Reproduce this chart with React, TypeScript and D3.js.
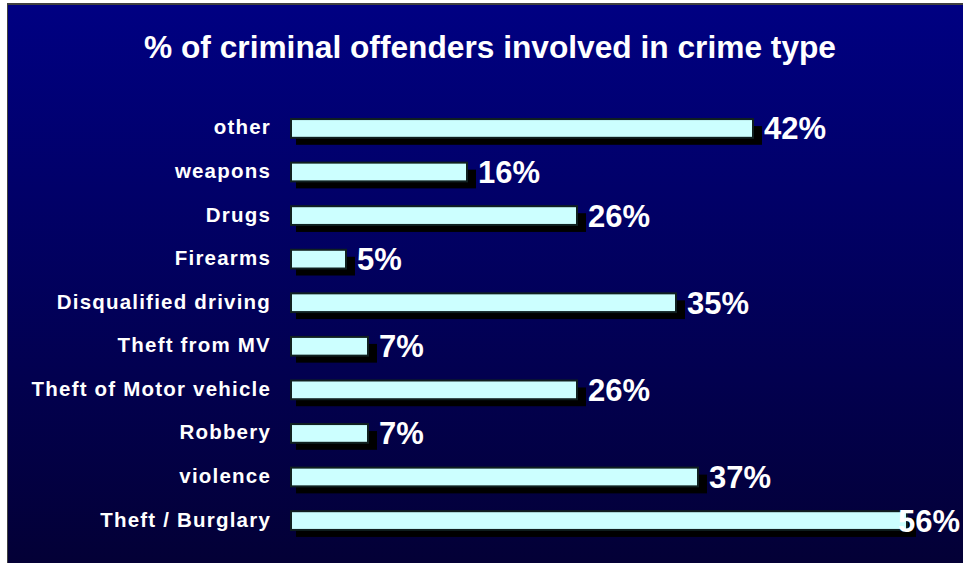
import React from "react";
import * as d3 from "d3";

const categories = [
  "other",
  "weapons",
  "Drugs",
  "Firearms",
  "Disqualified driving",
  "Theft from MV",
  "Theft of Motor vehicle",
  "Robbery",
  "violence",
  "Theft / Burglary",
];
const values = [42, 16, 26, 5, 35, 7, 26, 7, 37, 56];
const title = "% of criminal offenders involved in crime type";

const W = 963;
const H = 563;

export default function App() {
  const x = d3.scaleLinear().domain([0, 56]).range([291, 907]);
  const y = d3
    .scaleBand<string>()
    .domain(categories)
    .range([106, 543])
    .paddingInner(0.57)
    .paddingOuter(0.3);
  const bh = y.bandwidth();
  return (
    <svg
      width={W}
      height={H}
      style={{ position: "absolute", left: 0, top: 0, display: "block" }}
      fontFamily="'Liberation Sans', Arial, sans-serif"
    >
      <defs>
        <linearGradient id="bg" x1="0" y1="0" x2="0" y2="1">
          <stop offset="0" stopColor="#000082" />
          <stop offset="1" stopColor="#030036" />
        </linearGradient>
      </defs>
      <rect x={0} y={0} width={W} height={H} fill="#ffffff" />
      <rect x={7} y={3} width={W - 7} height={H - 3} fill="#404040" />
      <rect x={8} y={5} width={W - 8} height={H - 5} fill="url(#bg)" />
      <text
        x={490}
        y={58}
        fill="#ffffff"
        fontSize={31}
        fontWeight="bold"
        textAnchor="middle"
        textLength={692}
        lengthAdjust="spacingAndGlyphs"
      >
        {title}
      </text>
      {categories.map((c, i) => {
        const y0 = y(c)!;
        const x1 = x(values[i]);
        return (
          <g key={c}>
            <rect x={x(0) + 5} y={y0 + 7} width={x1 - x(0) + 4} height={bh} fill="#000000" />
            <rect
              x={x(0)}
              y={y0}
              width={x1 - x(0)}
              height={bh}
              fill="#ccffff"
              stroke="#102020"
              strokeWidth={2}
            />
            <text
              x={271}
              y={y0 + bh / 2 + 6}
              fill="#ffffff"
              fontSize={20.5}
              fontWeight="bold"
              textAnchor="end"
              letterSpacing={1.2}
            >
              {c}
            </text>
            <text
              x={Math.min(x1 + 11, 898)}
              y={y0 + bh / 2 + 11}
              fill="#ffffff"
              fontSize={31}
              fontWeight="bold"
            >
              {values[i]}%
            </text>
          </g>
        );
      })}
    </svg>
  );
}
